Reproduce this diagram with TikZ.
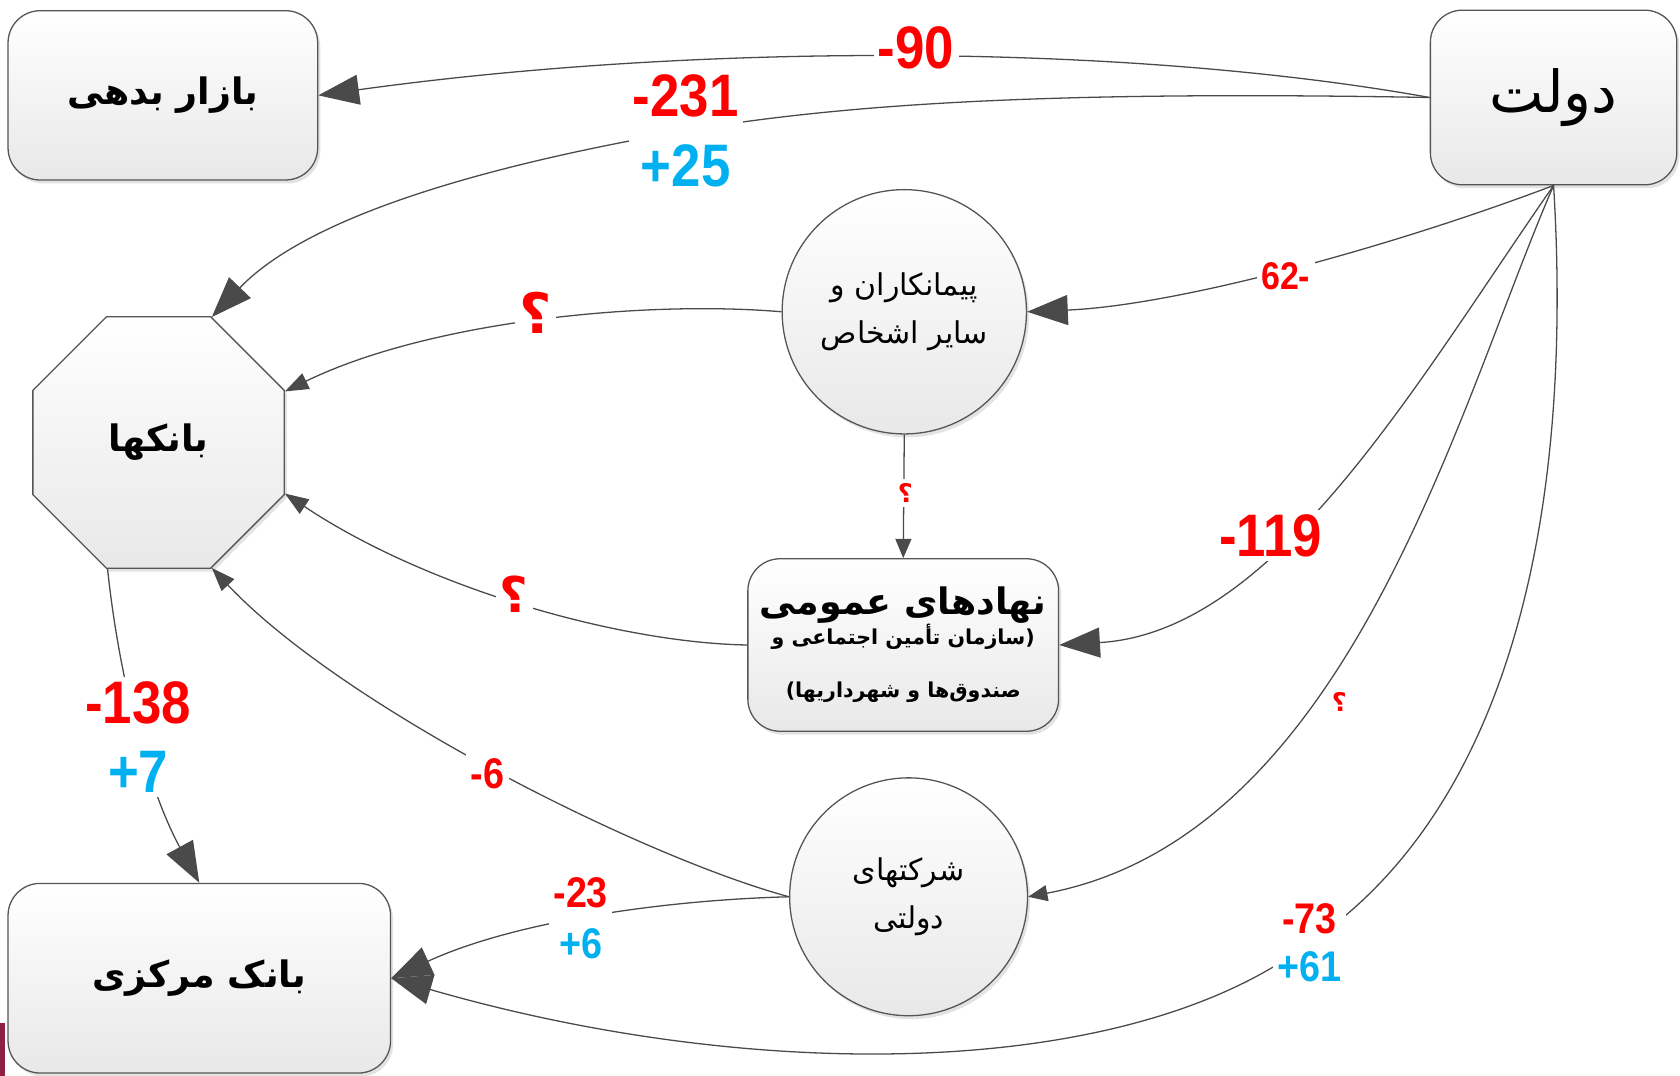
\documentclass[tikz,border=0pt]{standalone}
\usepackage{fontspec}
\usetikzlibrary{arrows.meta,shapes.geometric,shadows}
\TeXXeTstate=1
\newfontfamily\fa[Script=Arabic]{DejaVu Sans}
\newfontfamily\numfont[FakeStretch=0.88]{Liberation Sans}
\definecolor{numred}{HTML}{FF0000}
\definecolor{numblue}{HTML}{00B0F0}
\definecolor{edgegray}{HTML}{4A4A4A}
\definecolor{bordergray}{HTML}{555555}
\definecolor{slidemaroon}{HTML}{8E1F45}
\newcommand\RL[1]{\beginR #1\endR}
\tikzset{
  nodebase/.style={draw=bordergray, line width=0.6pt, top color=white, bottom color=black!9,
    drop shadow={shadow xshift=1.2pt,shadow yshift=-1.6pt,opacity=0.22}},
  roundbox/.style={nodebase, rectangle, rounded corners=15pt, align=center, inner sep=0pt},
  roundnode/.style={nodebase, circle, align=center, inner sep=0pt},
  octnode/.style={nodebase, regular polygon, regular polygon sides=8, inner sep=0pt},
  conn/.style={draw=edgegray, line width=0.6pt},
  bigtip/.style={conn, -{Triangle[length=19pt,width=14pt]}},
  medtip/.style={conn, -{Triangle[length=11pt,width=8pt]}},
  smalltip/.style={conn, -{Triangle[length=9pt,width=7.5pt]}},
  lbl/.style={fill=white, inner sep=2pt, align=center},
  numbig/.style={lbl, font=\numfont\bfseries\fontsize{28pt}{32.5pt}\selectfont},
  numsmall/.style={lbl, font=\numfont\bfseries\fontsize{20pt}{23.5pt}\selectfont},
  qbig/.style={lbl, text=numred, font=\fa\bfseries\fontsize{26pt}{28pt}\selectfont},
  qsmall/.style={lbl, text=numred, font=\fa\bfseries\fontsize{12pt}{14pt}\selectfont},
}
\begin{document}
\begin{tikzpicture}[x=0.5pt,y=-0.5pt]
\fill[white] (0,0) rectangle (1568,1004);
\useasboundingbox (0,0) rectangle (1568,1004);
\fill[slidemaroon] (0,955) rectangle (5,1004);

% nodes
\node[roundbox, minimum width=144.5pt, minimum height=79pt,
  font=\fa\bfseries\fontsize{17pt}{20pt}\selectfont] (baz) at (152,89) {\RL{بازار بدهی}};
\node[roundbox, minimum width=115pt, minimum height=81.5pt,
  font=\fa\fontsize{27pt}{30pt}\selectfont] (dolat) at (1450,91) {\RL{دولت}};
\node[octnode, minimum size=127pt,
  font=\fa\bfseries\fontsize{17pt}{20pt}\selectfont] (banks) at (148,413) {\RL{بانکها}};
\node[roundnode, minimum size=114pt,
  font=\fa\fontsize{14pt}{22.5pt}\selectfont] (peym) at (844,291) {\RL{پیمانکاران و}\\\RL{سایر اشخاص}};
\node[roundbox, minimum width=145pt, minimum height=80.5pt, font=\fa\bfseries] (nahad) at (843,602)
  {\fontsize{17pt}{20pt}\selectfont\RL{نهادهای عمومی}\\[-1pt]
   \fontsize{9.6pt}{12pt}\selectfont\RL{(سازمان تأمین اجتماعی و}\\[13pt]
   \fontsize{9.6pt}{12pt}\selectfont\RL{صندوق‌ها و شهرداریها)}};
\node[roundnode, minimum size=111pt,
  font=\fa\fontsize{14pt}{22.5pt}\selectfont] (sherk) at (848,837) {\RL{شرکتهای}\\\RL{دولتی}};
\node[roundbox, minimum width=178.5pt, minimum height=88.5pt,
  font=\fa\bfseries\fontsize{17pt}{20pt}\selectfont] (bankm) at (186,913) {\RL{بانک مرکزی}};

% label positions
\coordinate (c90) at (855,45);
\coordinate (c231) at (640,122);
\coordinate (c62) at (1200,258);
\coordinate (c119) at (1186,500);
\coordinate (cq5) at (1250,655);
\coordinate (c73) at (1222,880);
\coordinate (cq7) at (500,292);
\coordinate (cq8) at (845,460);
\coordinate (cq9) at (480,555);
\coordinate (c6) at (455,722);
\coordinate (c23) at (542,857);
\coordinate (c138) at (129,688);

% connectors
\draw[bigtip] (dolat.west) .. controls (1050,40) and (650,40) .. (baz.east);
\draw[bigtip] (dolat.west) .. controls (1000,85) and (800,95) .. (c231)
  .. controls (420,160) and (280,210) .. (banks.67.5);
\draw[bigtip] (dolat.south) .. controls (1300,230) and (1100,285) .. (peym.east);
\draw[bigtip] (dolat.south) .. controls (1320,360) and (1190,590) .. (nahad.east);
\draw[smalltip] (dolat.south) .. controls (1360,380) and (1260,780) .. (sherk.east);
\draw[bigtip] (dolat.south) .. controls (1470,500) and (1400,760) .. (c73)
  .. controls (1050,1010) and (700,1010) .. (bankm.east);
\draw[medtip] (peym.west) .. controls (600,280) and (400,300) .. (banks.22.5);
\draw[smalltip] (peym.south) -- (nahad.north);
\draw[medtip] (nahad.west) .. controls (580,600) and (400,550) .. (banks.-22.5);
\draw[medtip] (sherk.west) .. controls (600,800) and (320,660) .. (banks.-67.5);
\draw[bigtip] (sherk.west) .. controls (620,840) and (480,860) .. (bankm.east);
\draw[bigtip] (banks.-112.5) .. controls (112,640) and (140,740) .. (bankm.north);

% labels
\node[numbig, text=numred] (l90) at (c90) {-90};
\node[numbig] (l231) at (c231) {\textcolor{numred}{-231}\\\textcolor{numblue}{+25}};
\node[numsmall, text=numred, font=\numfont\bfseries\fontsize{18pt}{20pt}\selectfont] (l62) at (c62) {62-};
\node[numbig, text=numred] (l119) at (c119) {-119};
\node[qsmall] (q5) at (cq5) {؟};
\node[numsmall, font=\numfont\bfseries\fontsize{20pt}{22.5pt}\selectfont] (l73) at (c73) {\textcolor{numred}{-73}\\\textcolor{numblue}{+61}};
\node[qbig] (q7) at (cq7) {؟};
\node[qsmall] (q8) at (cq8) {؟};
\node[qbig, font=\fa\bfseries\fontsize{23pt}{26pt}\selectfont] (q9) at (cq9) {؟};
\node[numsmall, text=numred] (l6) at (c6) {-6};
\node[numsmall] (l23) at (c23) {\textcolor{numred}{-23}\\\textcolor{numblue}{+6}};
\node[numbig] (l138) at (c138) {\textcolor{numred}{-138}\\\textcolor{numblue}{+7}};
\end{tikzpicture}
\end{document}
